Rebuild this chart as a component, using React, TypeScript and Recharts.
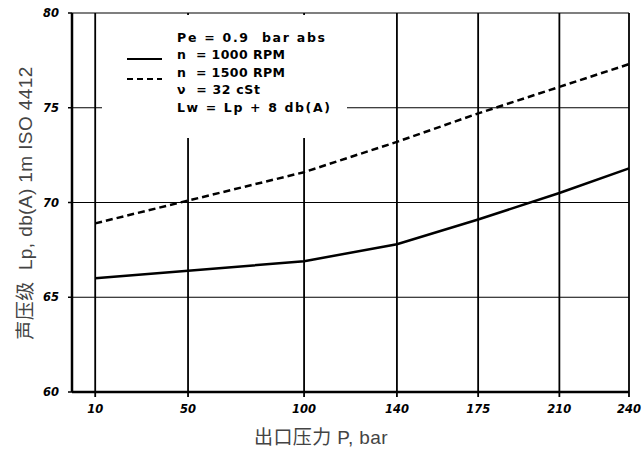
import { LineChart, Line, XAxis, YAxis, CartesianGrid } from "recharts";

const pressure = [10, 50, 100, 140, 175, 210, 240];
const rpm1000 = [66.0, 66.4, 66.9, 67.8, 69.1, 70.5, 71.8];
const rpm1500 = [68.9, 70.1, 71.6, 73.2, 74.7, 76.1, 77.3];
const yTicks = [60, 65, 70, 75, 80];
const legendLines = [
  "Pe = 0.9  bar abs",
  "n  = 1000 RPM",
  "n  = 1500 RPM",
  "\u03bd  = 32 cSt",
  "Lw = Lp + 8 db(A)",
];

const data = pressure.map((p, i) => ({ p, a: rpm1000[i], b: rpm1500[i] }));

// rendered widths of the legend rows in the original artwork
const legendWidths = [148, 108, 108, 83, 153];

const tickFont = {
  fontFamily: "DejaVu Sans",
  fontWeight: "bold",
  fontStyle: "italic",
  fontSize: 11.5,
  fill: "#000",
};

const labelStyle = {
  position: "absolute" as const,
  whiteSpace: "pre" as const,
  fontFamily: "'Liberation Sans', 'Noto Sans CJK SC'",
  fontSize: 19,
  letterSpacing: 0.4,
  color: "#444",
};

export default function App() {
  return (
    <div
      style={{
        position: "absolute",
        left: 0,
        top: 0,
        width: 642,
        height: 451,
        background: "#fff",
      }}
    >
      <LineChart
        width={642}
        height={451}
        data={data}
        margin={{ top: 13, right: 13, bottom: 29, left: 22 }}
      >
        <CartesianGrid stroke="#000" strokeWidth={1.2} vertical={false} />
        <CartesianGrid stroke="#000" strokeWidth={1.8} horizontal={false} />
        <XAxis
          dataKey="p"
          type="number"
          domain={[0, 240]}
          ticks={pressure}
          height={30}
          axisLine={{ stroke: "#000", strokeWidth: 2.5 }}
          tickLine={{ stroke: "#000", strokeWidth: 1.8 }}
          tickSize={5}
          tickMargin={8}
          tick={tickFont}
        />
        <YAxis
          type="number"
          domain={[60, 80]}
          ticks={yTicks}
          width={50}
          axisLine={{ stroke: "#000", strokeWidth: 2.5 }}
          tickLine={{ stroke: "#000", strokeWidth: 1.5 }}
          tickSize={4}
          tickMargin={9}
          tick={tickFont}
        />
        <Line
          dataKey="a"
          type="linear"
          stroke="#000"
          strokeWidth={2.5}
          dot={false}
          isAnimationActive={false}
        />
        <Line
          dataKey="b"
          type="linear"
          stroke="#000"
          strokeWidth={2.5}
          strokeDasharray="7 4"
          dot={false}
          isAnimationActive={false}
        />
      </LineChart>

      <div
        style={{
          position: "absolute",
          left: 102,
          top: 15,
          width: 245,
          height: 123,
          background: "#fff",
        }}
      >
        <svg width={245} height={123}>
          <line x1={25} x2={60} y1={44} y2={44} stroke="#000" strokeWidth={2.2} />
          <line
            x1={25}
            x2={60}
            y1={64}
            y2={64}
            stroke="#000"
            strokeWidth={2.2}
            strokeDasharray="6 4"
          />
          {legendLines.map((t, i) => (
            <text
              key={i}
              x={75}
              y={26.5 + i * 17.5}
              fontFamily="DejaVu Sans"
              fontWeight="bold"
              fontSize={12.5}
              fill="#000"
              textLength={legendWidths[i]}
              lengthAdjust="spacing"
              style={{ whiteSpace: "pre" }}
            >
              {t}
            </text>
          ))}
        </svg>
      </div>

      <div
        style={{
          ...labelStyle,
          left: 23,
          top: 203,
          transform: "translate(-50%, -50%) rotate(-90deg)",
        }}
      >
        {"声压级  Lp, db(A) 1m ISO 4412"}
      </div>
      <div
        style={{
          ...labelStyle,
          left: 321,
          top: 435,
          transform: "translate(-50%, -50%)",
        }}
      >
        {"出口压力 P, bar"}
      </div>
    </div>
  );
}
